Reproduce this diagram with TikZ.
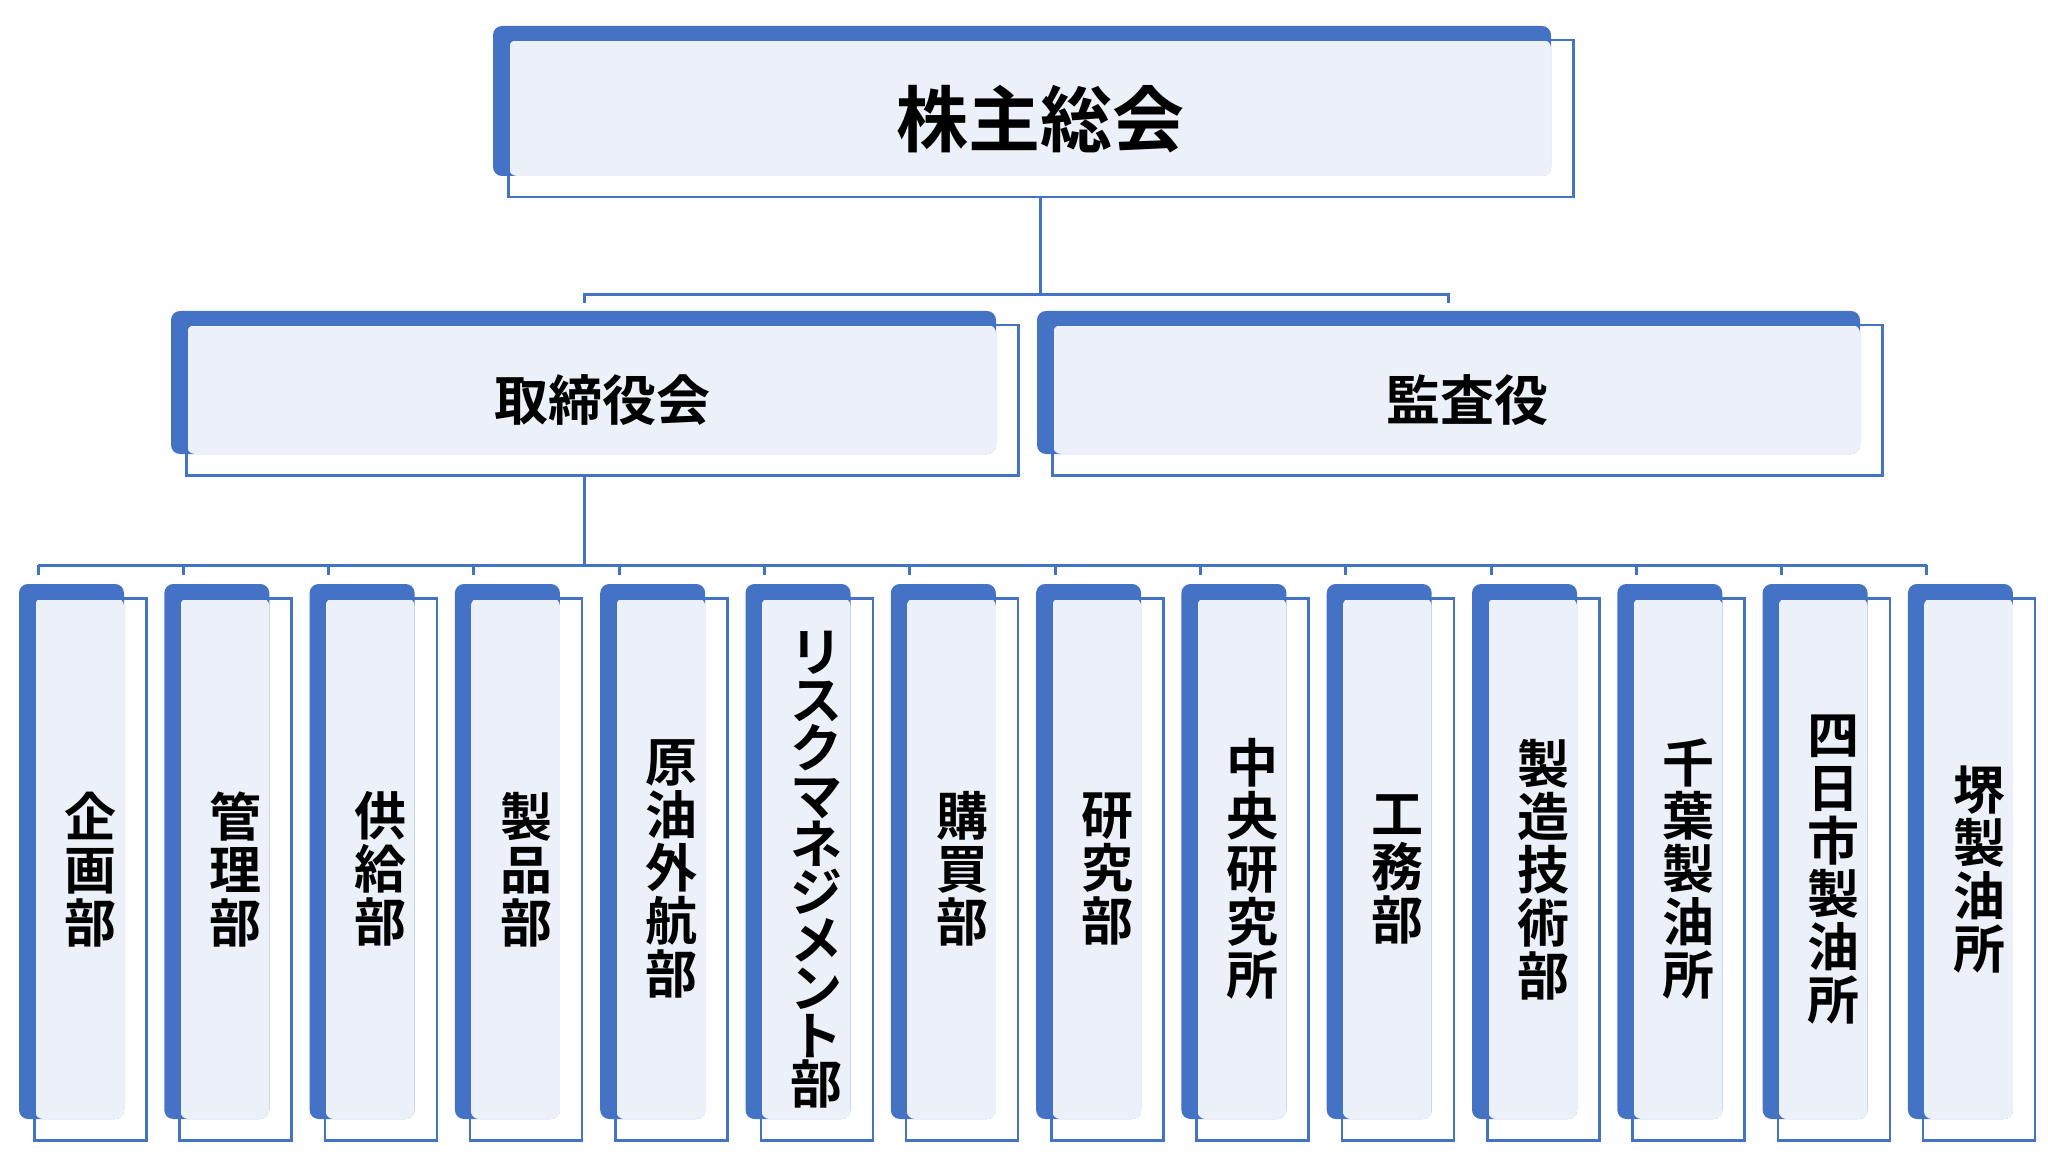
\documentclass[tikz,border=0pt]{standalone}
\usepackage{fontspec}
\setmainfont{Noto Sans CJK JP}[BoldFont={Noto Sans CJK JP Bold}]
\usetikzlibrary{positioning,calc}
\definecolor{orgblue}{HTML}{4472C4}
\definecolor{orglight}{HTML}{EBF0F9}
\tikzset{
  outline/.style={draw=orgblue, line width=2.5pt, inner sep=0pt, align=center},
  topfont/.style={font=\bfseries\fontsize{72}{80}\selectfont},
  midfont/.style={font=\bfseries\fontsize{54}{60}\selectfont},
  deptfont/.style={font=\bfseries\fontsize{52}{53}\selectfont},
  link/.style={draw=orgblue, line width=3pt},
}
% blue back panel + light face, then the outlined node
\newcommand{\orgbox}[7]{%
  \fill[orgblue, rounded corners=9pt] (#2-14,#3-13) rectangle (#2+#4-21,#3+#5-20);
  \fill[orglight, rounded corners=8pt] (#2+2,#3+1) rectangle (#2+#4-21,#3+#5-20);
  \node[outline, #7, minimum width=#4pt, minimum height=#5pt, anchor=north west] (#1) at (#2,#3) {#6};
}
\begin{document}
\begin{tikzpicture}[x=1pt,y=-1pt]
        \useasboundingbox (0,0) rectangle (2048,1166);
        % top levels
        \orgbox{soukai}{507}{39}{1065}{157}{株主総会}{topfont}
        \orgbox{torishimari}{185}{324}{832}{150}{取締役会}{midfont}
        \orgbox{kansa}{1051}{324}{830}{150}{監査役}{midfont}

        % departments
        \foreach \txt [count=\i from 0] in {
            {企\\画\\部}, {管\\理\\部}, {供\\給\\部}, {製\\品\\部}, {原\\油\\外\\航\\部},
            {リ\\[-5pt]ス\\[-5pt]ク\\[-5pt]マ\\[-5pt]ネ\\[-5pt]ジ\\[-5pt]メ\\[-5pt]ン\\[-5pt]ト\\[-5pt]部},
            {購\\買\\部}, {研\\究\\部},
            {中\\央\\研\\究\\所}, {工\\務\\部}, {製\\造\\技\\術\\部}, {千\\葉\\製\\油\\所},
            {四\\日\\市\\製\\油\\所}, {堺\\製\\油\\所}} {
            \pgfmathsetmacro{\bx}{33+145.3*\i}
            \orgbox{b\i}{\bx}{597}{112}{542}{\txt}{deptfont}
            \coordinate (t\i) at (\bx+5,565);
            \draw[link] (t\i) -- ++(0,10);
        }

        % connectors
        \coordinate (hub) at (soukai.south |- 0,295);
        \draw[link] (soukai.south) -- (hub);
        \draw[link] (584,303) -- (584,295) -- (1448,295) -- (1448,303);
        \draw[link] (torishimari.south -| 584,0) -- (584,565);
        \draw[link] (t0) -- (t13);
\end{tikzpicture}
\end{document}
